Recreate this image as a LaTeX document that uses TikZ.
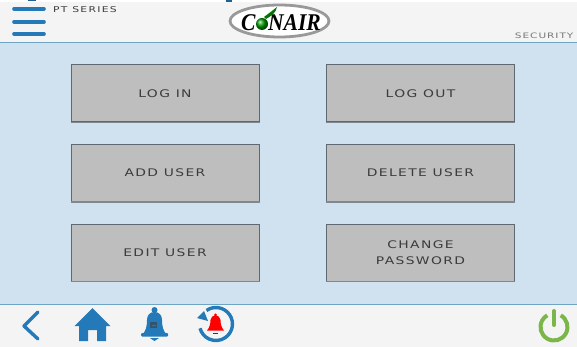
\documentclass[tikz,border=0pt]{standalone}
\usepackage{fontspec}
\setmainfont{Liberation Serif}
\newfontfamily\uifont[FakeStretch=1.32,LetterSpace=13]{DejaVu Sans}
\newfontfamily\hdfont[FakeStretch=1.4,LetterSpace=13]{DejaVu Sans}
\newfontfamily\hdbold[FakeStretch=1.35,LetterSpace=16]{DejaVu Sans}
\usetikzlibrary{calc}
\definecolor{panel}{HTML}{D0E1EF}
\definecolor{barbg}{HTML}{F4F4F4}
\definecolor{btn}{HTML}{BEBEBE}
\definecolor{btnline}{HTML}{5F6973}
\definecolor{ublue}{HTML}{2479B8}
\definecolor{rule}{HTML}{6FA5C4}
\definecolor{ugreen}{HTML}{7AB648}
\definecolor{btxt}{HTML}{3C3C3C}
\tikzset{x=1pt,y=-1pt,
 uibtn/.style={draw=btnline,line width=1pt,fill=btn,minimum width=188pt,minimum height=57pt,inner sep=0pt,align=center,text=btxt,font=\uifont\fontsize{10.5}{15.5}\selectfont},
 icon/.style={fill=ublue,draw=none},
 burger/.style={draw=ublue,line width=3.6pt,line cap=round},
 lab/.style={font=\hdfont\fontsize{7.5}{9}\selectfont,text=btxt!70,inner sep=0pt},
 labb/.style={font=\hdbold\fontsize{8}{9}\selectfont,text=btxt,inner sep=0pt}}
\begin{document}
\begin{tikzpicture}
\useasboundingbox (0,0) rectangle (577,347);
\fill[white] (0,0) rectangle (577,347);
\fill[barbg] (0,2) rectangle (577,42);
\fill[panel] (0,43) rectangle (577,304);
\fill[barbg] (0,304) rectangle (577,347);
\draw[rule,line width=1pt] (0,42.5) -- (577,42.5);
\draw[rule,line width=1pt] (0,304) -- (577,304);
% cut-off marks at the top edge
\fill[ublue!80!black] (28,0) rectangle (36,1.5);
\fill[ublue!80!black] (226,0) rectangle (232,1.8);
% burger
\draw[burger] (14,9) -- (44,9);
\draw[burger] (14,22) -- (44,22);
\draw[burger] (14,34) -- (44,34);
\node[labb,anchor=west] (series) at (53,9.5) {PT SERIES};
\node[lab,anchor=east] (sec) at (573.5,35.5) {SECURITY};
% logo
\draw[draw=gray!80,line width=2.8pt,fill=white] (279.5,21) ellipse (49.5 and 16);
\node[inner sep=0pt,font=\fontsize{24}{24}\selectfont\bfseries\itshape,text=black] (logo) at (281,23) {\scalebox{.9}[1]{C\hspace{14pt}NAIR}};
\shade[ball color=green!60!black] (262,24) circle (6);
\fill[green!45!black] (264,17) .. controls (268,14) and (272,11) .. (277,7) .. controls (276,13) and (271,16) .. (266,19) -- cycle;
% buttons
\foreach \nm/\xx/\yy/\tx in {login/165/93.5/LOG IN, logout/420.5/93.5/LOG OUT, adduser/165/173/ADD USER, deluser/420.5/173/DELETE USER, edituser/165/252.5/EDIT USER, chpass/420.5/252.5/{CHANGE\\PASSWORD}}{
  \node[uibtn] (\nm) at (\xx,\yy) {\tx};
  \draw[btnline!80,line width=1.6pt] (\nm.south west) -- (\nm.south east);
}
% back
\draw[ublue,line width=3.4pt,line cap=round,line join=round] (38,312) -- (24,326) -- (38,339);
% home
\fill[icon] (92.5,308) -- (110.5,326) -- (106,326) -- (106,341) -- (97,341) -- (97,330) -- (88,330) -- (88,341) -- (79,341) -- (79,326) -- (74.5,326) -- cycle;
% bell
\fill[icon] (142,335) .. controls (146,331) and (147,326) .. (147,320) .. controls (147,315) and (150,312) .. (154.5,312) .. controls (159,312) and (162,315) .. (162,320) .. controls (162,326) and (163,331) .. (167,335) -- cycle;
\fill[icon] (154.5,310) circle (3);
\fill[icon,rounded corners=1pt] (141,333) rectangle (168,336.5);
\fill[icon] (150,338) -- (159,338) -- (154.5,341) -- cycle;
\fill[btxt!60!ublue] (150,322) rectangle (157,328);
\fill[ublue] (151.5,324.5) rectangle (155.5,325.5);
% history bell
\draw[ublue,line width=3.4pt] (206.5,310.5) arc (-125:165:16.5);
\fill[ublue] (197,318) -- (204,311) -- (208,321) -- cycle;
\fill[red] (207,330.5) .. controls (210,327) and (210.5,323) .. (210.5,320) .. controls (210.5,317) and (213,315.5) .. (215.5,315.5) .. controls (218,315.5) and (220.5,317) .. (220.5,320) .. controls (220.5,323) and (221,327) .. (224,330.5) -- cycle;
\fill[red] (215.5,315) circle (1.6);
\fill[red!70!black] (213,332.5) rectangle (218,334);
% power
\draw[ugreen,line width=4pt] (560.75,315.3) arc (-60:240:13.5);
\draw[ugreen,line width=4pt,line cap=round] (554,311) -- (554,325);
\end{tikzpicture}
\end{document}
